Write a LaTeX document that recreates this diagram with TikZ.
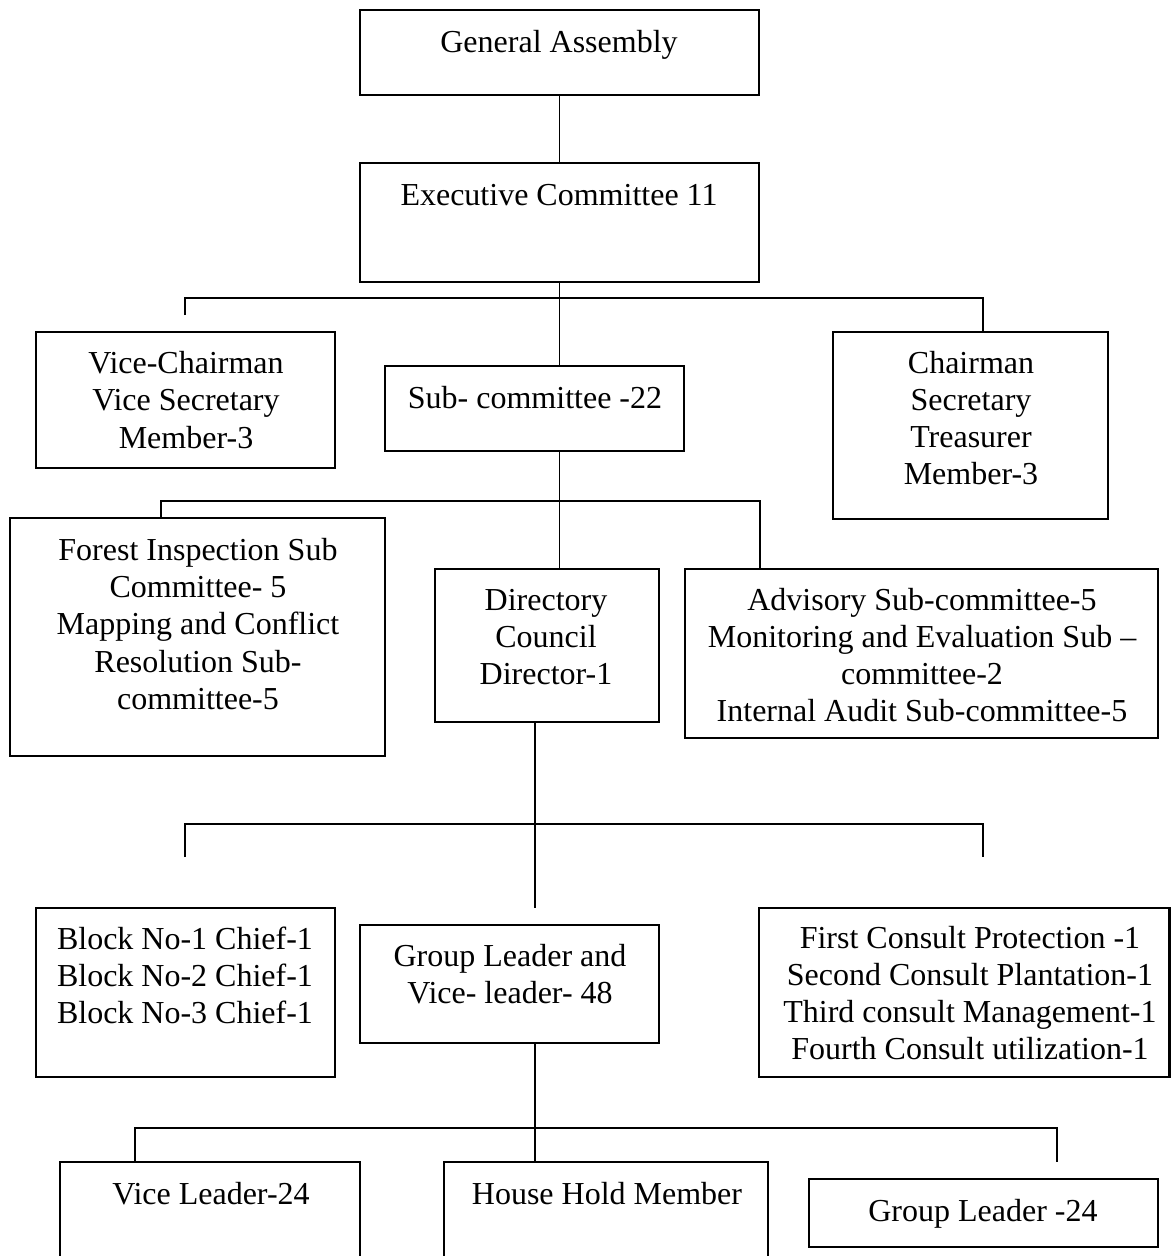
\documentclass[tikz,border=0pt]{standalone}
\usepackage{fontspec}
\setmainfont{Liberation Serif}
\usetikzlibrary{fit}

\begin{document}
\begin{tikzpicture}[x=0.375pt, y=-0.375pt,
    box/.style={draw, line width=0.9pt, inner sep=0pt},
    txt/.style={align=center, inner sep=0pt, font=\fontsize{12}{13.9}\selectfont},
    wire/.style={line width=0.7pt}]
  \useasboundingbox (0,0) rectangle (1171,1256);

  % general assembly, executive committee
  \node[box, fit={(360,10) (759,95)}] (ga) {};
  \node[txt] (gaT) at (559,45) {General Assembly};
  \node[box, fit={(360,163) (759,282)}] (exec) {};
  \node[txt] (execT) at (559,195) {Executive Committee 11};
  \draw[wire] (ga) -- (exec);

  % second row
  \node[box, fit={(36,332) (335,468)}] (vice) {};
  \node[txt] (viceT) at (186,400) {Vice-Chairman\\Vice Secretary\\Member-3};
  \node[box, fit={(385,366) (684,451)}] (sub) {};
  \node[txt] (subT) at (535,398) {Sub- committee -22};
  \node[box, fit={(833,332) (1108,519)}] (chair) {};
  \node[txt] (chairT) at (971,418) {Chairman\\Secretary\\Treasurer\\Member-3};

  \coordinate (b1l) at (185,315);
  \coordinate (b1r) at (983,298);
  \draw[wire] (exec.south) -- (exec.south |- sub.north);
  \draw[wire] (b1l) |- (b1r) -- (b1r |- chair.north);

  % sub-committees
  \node[box, fit={(10,518) (385,756)}] (forest) {};
  \node[txt] (forestT) at (198,624) {Forest Inspection Sub\\Committee- 5\\Mapping and Conflict\\Resolution Sub-\\committee-5};
  \node[box, fit={(435,569) (659,722)}] (dir) {};
  \node[txt] (dirT) at (546,637) {Directory\\Council\\Director-1};
  \node[box, fit={(685,569) (1158,738)}] (advis) {};
  \node[txt] (advisT) at (922,655) {Advisory Sub-committee-5\\Monitoring and Evaluation Sub –\\committee-2\\Internal Audit Sub-committee-5};

  \coordinate (b2l) at (161,501);
  \coordinate (b2r) at (760,501);
  \draw[wire] (sub.south -| exec.south) -- (dir.north -| exec.south);
  \draw[wire] (forest.north -| b2l) |- (b2r) -- (b2r |- advis.north);

  % director level
  \node[box, fit={(36,908) (335,1077)}] (block) {};
  \node[txt] (blockT) at (185,975) {Block No-1 Chief-1\\Block No-2 Chief-1\\Block No-3 Chief-1};
  \node[box, fit={(360,925) (659,1043)}] (glead) {};
  \node[txt] (gleadT) at (510,974) {Group Leader and\\Vice- leader- 48};
  \node[box, fit={(759,908) (1169.5,1077)}] (consult) {};
  \node[txt] (consultT) at (970,993) {First Consult Protection -1\\Second Consult Plantation-1\\Third consult Management-1\\Fourth Consult utilization-1};

  \coordinate (d3) at (535,908);
  \coordinate (b3) at (535,824);
  \coordinate (b3l) at (185,857);
  \coordinate (b3r) at (983,857);
  \draw[wire] (dir.south -| d3) -- (d3);
  \draw[wire] (b3l) |- (b3) -| (b3r);

  % bottom row
  \node[box, fit={(60,1162) (360,1280)}] (vlead) {};
  \node[txt] (vleadT) at (211,1194) {Vice Leader-24};
  \node[box, fit={(444,1162) (768,1280)}] (house) {};
  \node[txt] (houseT) at (607,1194) {House Hold Member};
  \node[box, fit={(809,1179) (1158,1247)}] (gl24) {};
  \node[txt] (gl24T) at (983,1214) {Group Leader -24};

  \coordinate (b4) at (535,1128);
  \coordinate (b4l) at (135,1162);
  \coordinate (b4r) at (1057,1162);
  \draw[wire] (glead.south -| b4) -- (house.north -| b4);
  \draw[wire] (b4l) |- (b4) -| (b4r);
\end{tikzpicture}
\end{document}
